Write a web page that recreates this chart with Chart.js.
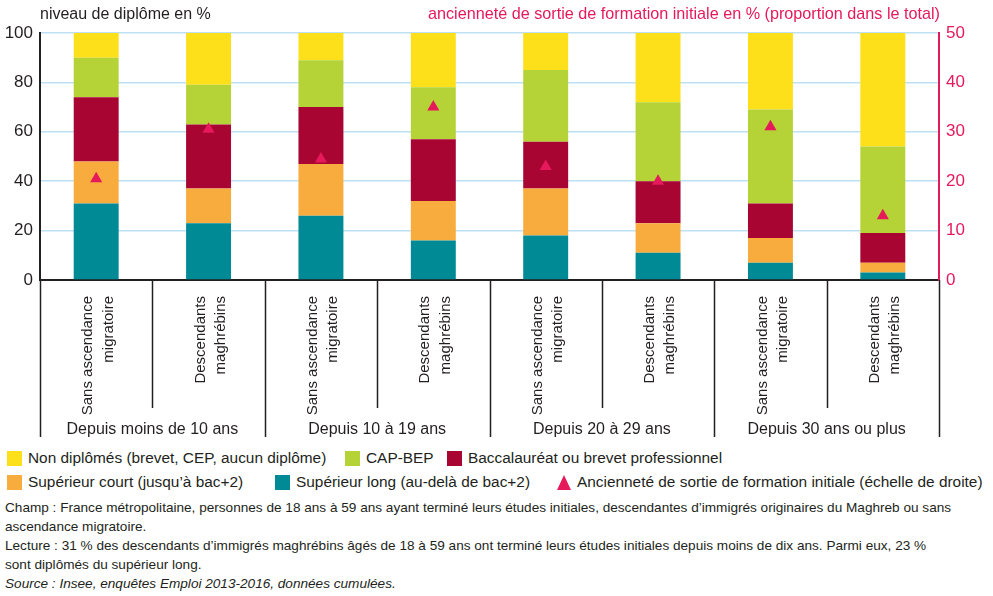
<!DOCTYPE html>
<html>
<head>
<meta charset="utf-8">
<script src="https://cdn.jsdelivr.net/npm/chart.js@4.4.1/dist/chart.umd.min.js"></script>
<style>
  body { margin: 0; background: #fff; font-family: "Liberation Sans", Arial, sans-serif; color: #231f20; }
  #wrap { position: relative; width: 993px; height: 596px; }
  #box { position: absolute; left: 0; top: 0; width: 993px; height: 445px; }
  .lg { position: absolute; font-size: 15.4px; white-space: nowrap; line-height: 16px; }
  .mk { position: absolute; width: 15px; height: 15px; }
  .tri { position: absolute; width: 0; height: 0; border-left: 7.5px solid transparent; border-right: 7.5px solid transparent; border-bottom: 15px solid #e6195b; }
  #notes { position: absolute; left: 5px; top: 498px; font-size: 13.6px; line-height: 19px; white-space: nowrap; }
</style>
</head>
<body>
<div id="wrap">
  <div id="box"><canvas id="diplomeChart"></canvas></div>

  <div class="mk" style="left:7px;top:451px;background:#fee01a"></div>
  <div class="lg" style="left:28px;top:450px">Non diplômés (brevet, CEP, aucun diplôme)</div>
  <div class="mk" style="left:345px;top:451px;background:#b5d336"></div>
  <div class="lg" style="left:366px;top:450px">CAP-BEP</div>
  <div class="mk" style="left:447px;top:451px;background:#a80533"></div>
  <div class="lg" style="left:468px;top:450px">Baccalauréat ou brevet professionnel</div>

  <div class="mk" style="left:7px;top:475px;background:#f9ac3e"></div>
  <div class="lg" style="left:28px;top:474px">Supérieur court (jusqu’à bac+2)</div>
  <div class="mk" style="left:275px;top:475px;background:#008a96"></div>
  <div class="lg" style="left:296px;top:474px">Supérieur long (au-delà de bac+2)</div>
  <div class="tri" style="left:557px;top:475px"></div>
  <div class="lg" style="left:577px;top:474px">Ancienneté de sortie de formation initiale (échelle de droite)</div>

  <div id="notes">
    Champ : France métropolitaine, personnes de 18 ans à 59 ans ayant terminé leurs études initiales, descendantes d’immigrés originaires du Maghreb ou sans<br>
    ascendance migratoire.<br>
    Lecture : 31 % des descendants d’immigrés maghrébins âgés de 18 à 59 ans ont terminé leurs études initiales depuis moins de dix ans. Parmi eux, 23 %<br>
    sont diplômés du supérieur long.<br>
    <i>Source : Insee, enquêtes Emploi 2013-2016, données cumulées.</i>
  </div>
</div>

<script>
const labels = [
  ["Sans ascendance", "migratoire"], ["Descendants", "maghrébins"],
  ["Sans ascendance", "migratoire"], ["Descendants", "maghrébins"],
  ["Sans ascendance", "migratoire"], ["Descendants", "maghrébins"],
  ["Sans ascendance", "migratoire"], ["Descendants", "maghrébins"]
];
const groups = ["Depuis moins de 10 ans", "Depuis 10 à 19 ans", "Depuis 20 à 29 ans", "Depuis 30 ans ou plus"];

// parts of each bar, in %, bottom to top
const supLong = [31, 23, 26, 16, 18, 11, 7, 3];
const supCourt = [17, 14, 21, 16, 19, 12, 10, 4];
const bac = [26, 26, 23, 25, 19, 17, 14, 12];
const capBep = [16, 16, 19, 21, 29, 32, 38, 35];
const nonDiplomes = [10, 21, 11, 22, 15, 28, 31, 46];

// right scale
const anciennete = [20.5, 30.5, 24.5, 35, 23, 20, 31, 13];

const leftTicks = [0, 20, 40, 60, 80, 100];
const rightTicks = [0, 10, 20, 30, 40, 50];

const ink = "#231f20";
const pink = "#e6195b";
const font = "'Liberation Sans', Arial, sans-serif";

// titles, group labels and the separators under the axis
const decor = {
  id: "decor",
  afterDraw(chart) {
    const ctx = chart.ctx;
    const x = chart.scales.x;
    const area = chart.chartArea;
    const half = (x.getPixelForValue(1) - x.getPixelForValue(0)) / 2;

    ctx.save();
    ctx.font = "16px " + font;
    ctx.textBaseline = "middle";
    ctx.fillStyle = ink;
    ctx.textAlign = "left";
    ctx.fillText("niveau de diplôme en %", 40, 15);
    ctx.fillStyle = pink;
    ctx.textAlign = "right";
    ctx.font = "16.2px " + font;
    ctx.fillText("ancienneté de sortie de formation initiale en % (proportion dans le total)", area.right + 1, 15);

    ctx.strokeStyle = ink;
    ctx.lineWidth = 1.5;
    for (let i = 0; i <= labels.length; i++) {
      let px = Math.round(x.getPixelForValue(i) - half) + 0.5;
      ctx.beginPath();
      ctx.moveTo(px, area.bottom);
      ctx.lineTo(px, i % 2 === 0 ? 437 : 408);
      ctx.stroke();
    }

    ctx.font = "16px " + font;
    ctx.fillStyle = ink;
    ctx.textAlign = "center";
    groups.forEach((g, k) => {
      let cx = (x.getPixelForValue(2 * k) + x.getPixelForValue(2 * k + 1)) / 2;
      ctx.fillText(g, cx, 430);
    });
    ctx.restore();
  }
};

function bar(label, data, color) {
  return {
    type: "bar",
    label,
    data,
    backgroundColor: color,
    yAxisID: "y",
    barPercentage: 0.4,
    categoryPercentage: 1,
    order: 2
  };
}

new Chart(document.getElementById("diplomeChart"), {
  data: {
    labels: labels,
    datasets: [
      bar("Supérieur long (au-delà de bac+2)", supLong, "#008a96"),
      bar("Supérieur court (jusqu’à bac+2)", supCourt, "#f9ac3e"),
      bar("Baccalauréat ou brevet professionnel", bac, "#a80533"),
      bar("CAP-BEP", capBep, "#b5d336"),
      bar("Non diplômés (brevet, CEP, aucun diplôme)", nonDiplomes, "#fee01a"),
      {
        type: "line",
        label: "Ancienneté de sortie de formation initiale (échelle de droite)",
        data: anciennete,
        yAxisID: "y1",
        showLine: false,
        pointStyle: "triangle",
        pointRadius: 7,
        pointBackgroundColor: pink,
        pointBorderWidth: 0,
        order: 1
      }
    ]
  },
  options: {
    responsive: true,
    maintainAspectRatio: false,
    animation: false,
    layout: { padding: { top: 33, left: 0, right: 0, bottom: 0 } },
    plugins: { legend: { display: false }, tooltip: { enabled: false } },
    scales: {
      x: {
        stacked: true,
        grid: { display: false },
        border: { display: true, color: ink, width: 2 },
        ticks: {
          autoSkip: false,
          minRotation: 90,
          maxRotation: 90,
          padding: 8,
          labelOffset: -8,
          color: ink,
          font: { family: font, size: 15, lineHeight: 1.35 }
        },
        afterFit(scale) { scale.height = 165; }
      },
      y: {
        stacked: true,
        position: "left",
        min: 0,
        max: 100,
        afterBuildTicks(scale) { scale.ticks = leftTicks.map(v => ({ value: v })); },
        grid: { color: "#bee0f4", lineWidth: 1.5, drawTicks: false },
        border: { display: true, color: ink, width: 2 },
        ticks: { padding: 7, color: ink, font: { family: font, size: 17 } },
        afterFit(scale) { scale.width = 40; }
      },
      y1: {
        position: "right",
        min: 0,
        max: 50,
        afterBuildTicks(scale) { scale.ticks = rightTicks.map(v => ({ value: v })); },
        grid: { drawOnChartArea: false, drawTicks: false },
        border: { display: true, color: pink, width: 2 },
        ticks: { padding: 7, color: pink, font: { family: font, size: 17 } },
        afterFit(scale) { scale.width = 54; }
      }
    }
  },
  plugins: [decor]
});
</script>
</body>
</html>
